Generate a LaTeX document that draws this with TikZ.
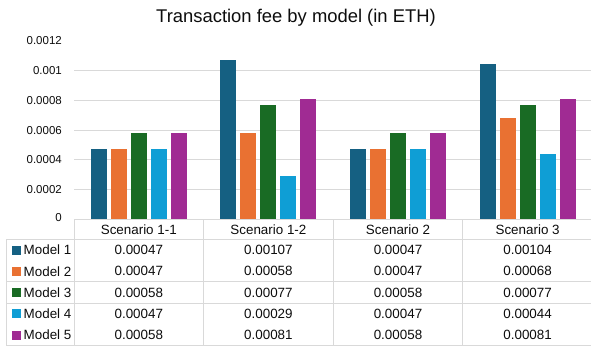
\documentclass[tikz,border=0pt]{standalone}
\usepackage{fontspec}
\setmainfont{Liberation Sans}
\definecolor{mA}{HTML}{156082}
\definecolor{mB}{HTML}{E97132}
\definecolor{mC}{HTML}{196B24}
\definecolor{mD}{HTML}{0F9ED5}
\definecolor{mE}{HTML}{A02B93}
\definecolor{gridc}{HTML}{D9D9D9}
\definecolor{txt}{HTML}{0D0D0D}
\begin{document}
\begin{tikzpicture}[x=1pt,y=-1pt,
  gridline/.style={draw=gridc,line width=0.9pt},
  ticklab/.style={anchor=east,inner sep=0pt,font=\fontsize{11.5}{12}\selectfont,text=txt},
  celltext/.style={anchor=center,inner sep=0pt,font=\fontsize{13.4}{14}\selectfont,text=txt},
  bar/.style={draw=none}]
\useasboundingbox[fill=white] (0,0) rectangle (591,348);
\node[anchor=base,inner sep=0pt,font=\fontsize{18.4}{20}\selectfont,text=txt] (title) at (296,22.5) {Transaction fee by model (in ETH)};
% gridlines and tick labels
\foreach \k/\lab in {1/0.0002,2/0.0004,3/0.0006,4/0.0008,5/0.001}{
  \draw[gridline] (74,{219.3-29.72*\k}) -- (591,{219.3-29.72*\k});
  \node[ticklab] (tick\k) at (62,{219.3-29.72*\k}) {\lab};
}
\node[ticklab] (tick6) at (62,{219.3-29.72*6}) {0.0012};
\node[ticklab] (tick0) at (62,217.5) {0};
% bars
\foreach \s/\vals in {0/{0.47,0.47,0.58,0.47,0.58},1/{1.07,0.58,0.77,0.29,0.81},2/{0.47,0.47,0.58,0.47,0.58},3/{1.04,0.68,0.77,0.44,0.81}}{
  \foreach \v [count=\i from 0] in \vals {
    \pgfmathsetmacro{\xl}{74+129.6*\s+16.8+20*\i}
    \ifcase\i \def\bc{mA}\or \def\bc{mB}\or \def\bc{mC}\or \def\bc{mD}\or \def\bc{mE}\fi
    \fill[\bc] (\xl,219) rectangle ({\xl+16},{219-148.6*\v});
  }
}
% table lines
\draw[gridline] (74,219.3) -- (591,219.3);
\foreach \yy in {239.3,281.7,303.3,345.7}{\draw[gridline] (6.7,\yy) -- (591,\yy);}
\draw[gridline] (6.7,239.3) -- (6.7,345.7);
\foreach \xx in {74,203.6,333.2,462.8}{\draw[gridline] (\xx,219.3) -- (\xx,345.7);}
% headers
\foreach \h/\n [count=\c from 0] in {Scenario 1-1/h0,Scenario 1-2/h1,Scenario 2/h2,Scenario 3/h3}{
  \node[celltext] (\n) at ({74+129.6*\c+64.8},229.5) {\h};
}
% rows
\foreach \m/\col/\a/\b/\cc/\d [count=\r from 0] in {
  Model 1/mA/0.00047/0.00107/0.00047/0.00104,
  Model 2/mB/0.00047/0.00058/0.00047/0.00068,
  Model 3/mC/0.00058/0.00077/0.00058/0.00077,
  Model 4/mD/0.00047/0.00029/0.00047/0.00044,
  Model 5/mE/0.00058/0.00081/0.00058/0.00081}{
  \pgfmathsetmacro{\yr}{250+21.3*\r}
  \fill[\col] (11.7,{\yr-4.5}) rectangle (20.7,{\yr+4.5});
  \node[celltext,anchor=west] (lab\r) at (23.5,\yr) {\m};
  \node[celltext] (va\r) at (138.8,\yr) {\a};
  \node[celltext] (vb\r) at (268.4,\yr) {\b};
  \node[celltext] (vc\r) at (398,\yr) {\cc};
  \node[celltext] (vd\r) at (527.6,\yr) {\d};
}
\end{tikzpicture}
\end{document}
